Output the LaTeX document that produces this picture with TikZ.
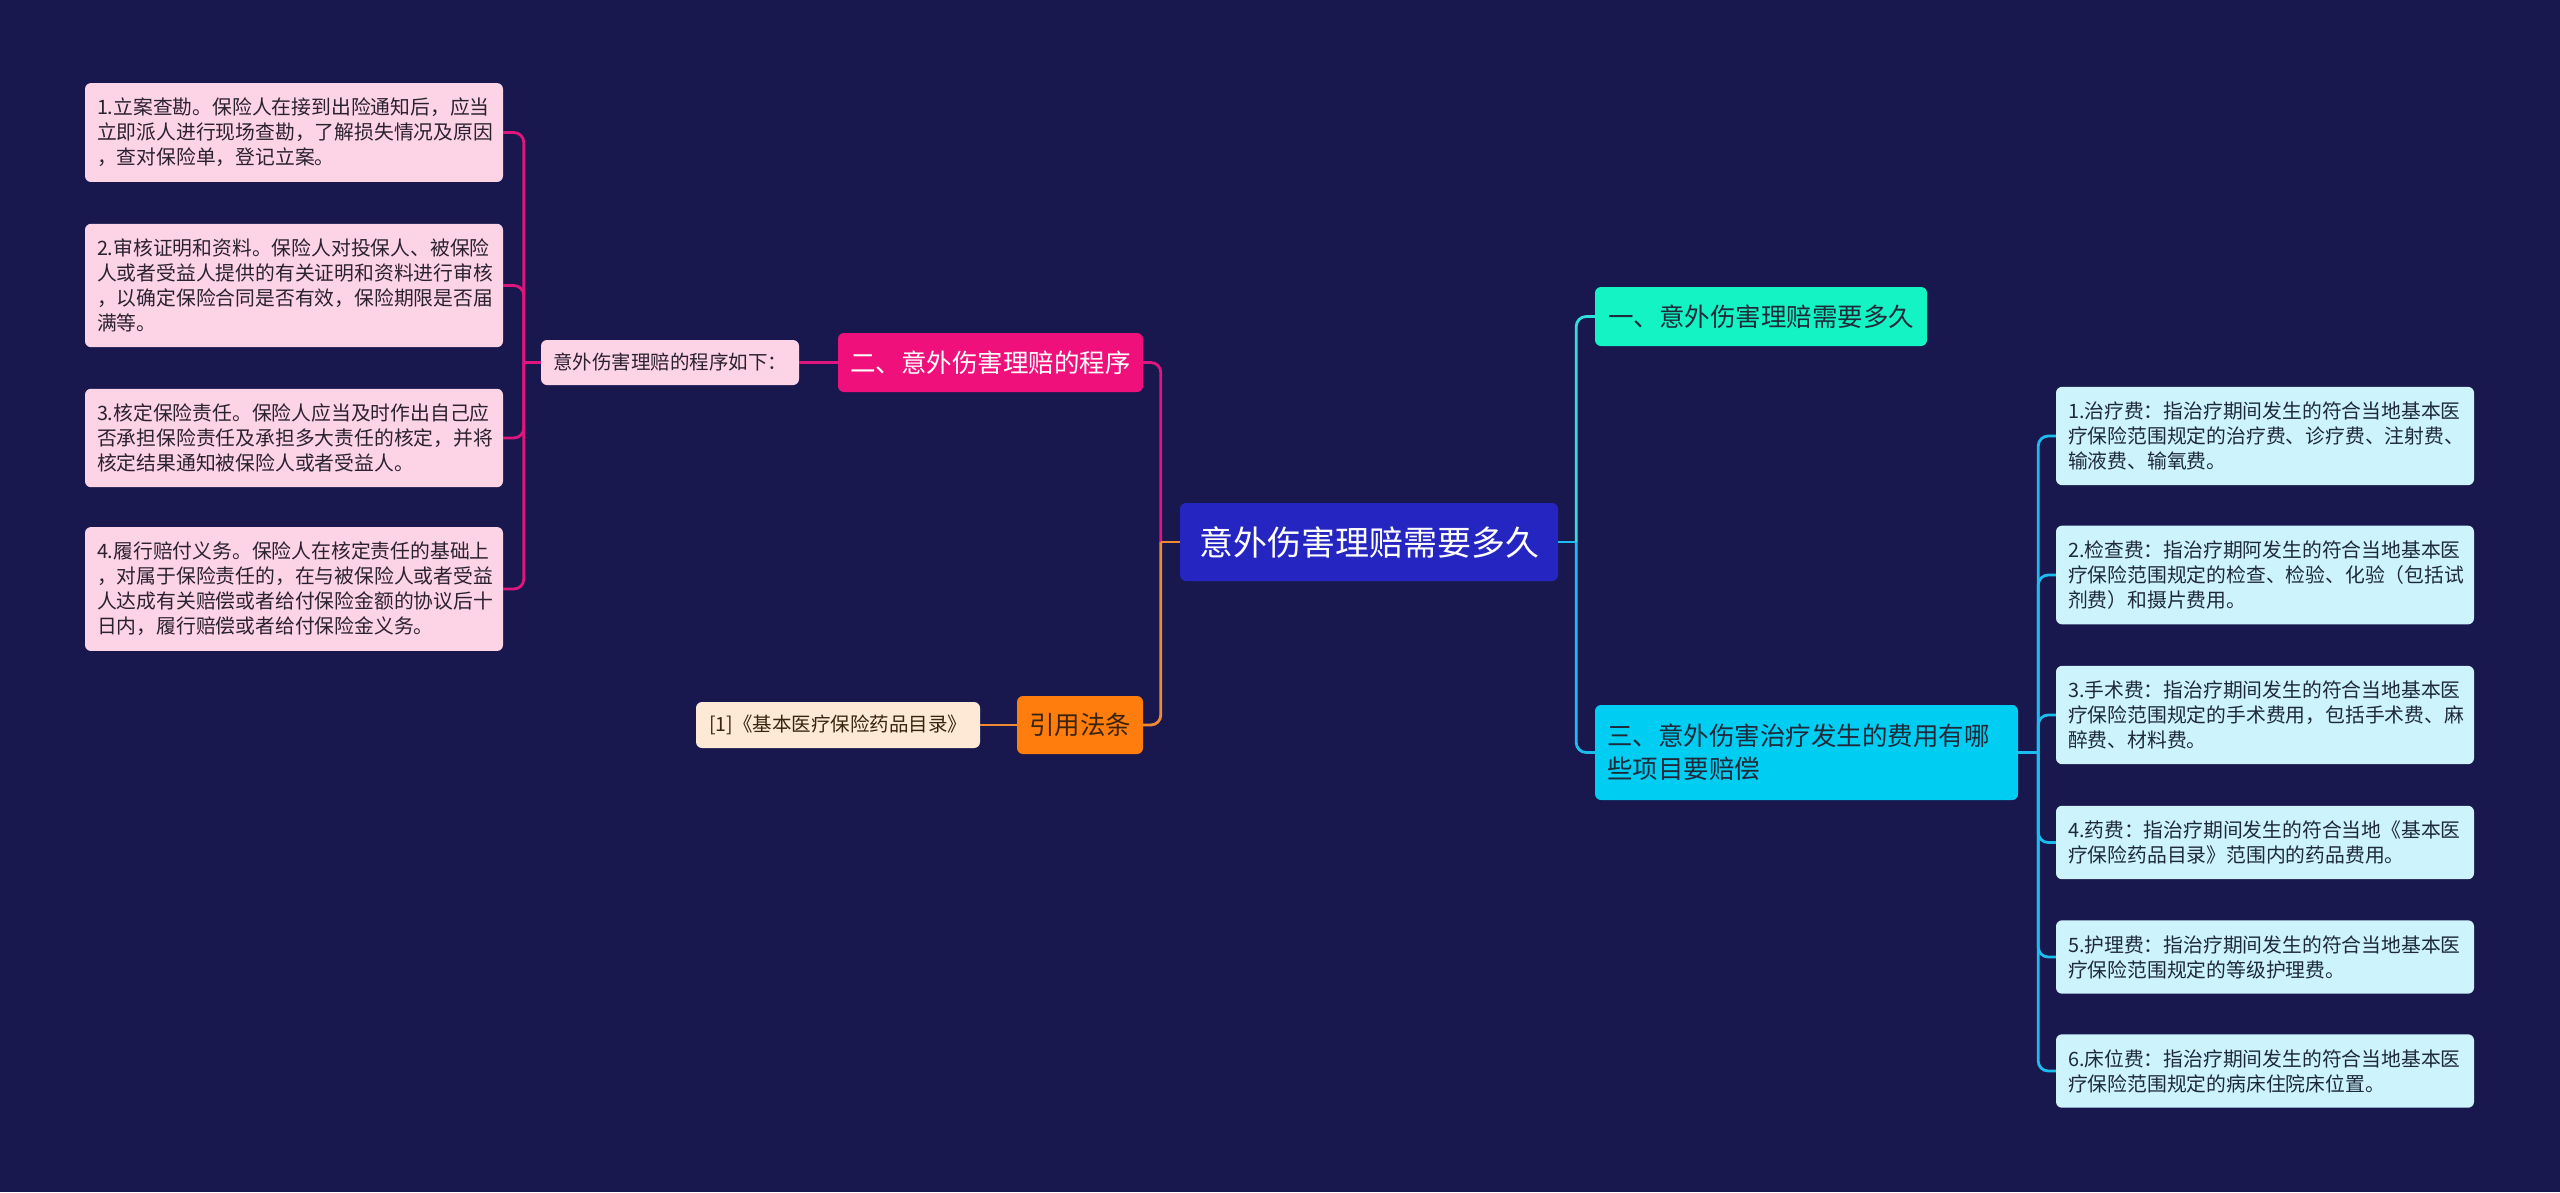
\documentclass[tikz,border=0pt]{standalone}
\usepackage{fontspec}
\setmainfont{Noto Sans CJK SC}
\usetikzlibrary{calc}
\definecolor{bg}{HTML}{18184F}
\definecolor{ctrfill}{HTML}{2525C2}
\definecolor{pinkfill}{HTML}{F0107C}
\definecolor{pinkln}{HTML}{E0167F}
\definecolor{pinkleaf}{HTML}{FDD3E6}
\definecolor{orfill}{HTML}{FF7D0C}
\definecolor{orln}{HTML}{F08A30}
\definecolor{orleaf}{HTML}{FDE9D5}
\definecolor{tealfill}{HTML}{14F3C4}
\definecolor{tealln}{HTML}{30E0D8}
\definecolor{cyanfill}{HTML}{00CDF2}
\definecolor{cyanln}{HTML}{1CBCEC}
\definecolor{cyanleaf}{HTML}{CDF3FC}
\definecolor{darktext}{HTML}{2A2230}
\definecolor{slatetext}{HTML}{1E2A3A}
\definecolor{browntext}{HTML}{3A2410}
\begin{document}
\begin{tikzpicture}[x=1pt,y=-1pt,
  box/.style={rounded corners=6pt, inner sep=0pt, align=center},
  leafL/.style={box, fill=pinkleaf, text=darktext, font=\fontsize{19.8}{25}\selectfont, text width=394pt, align=left, inner xsep=12pt, inner ysep=15pt},
  leafR/.style={box, fill=cyanleaf, text=slatetext, font=\fontsize{19.8}{25}\selectfont, text width=394pt, align=left, inner xsep=12pt, inner ysep=15pt},
  link/.style={line width=2.8pt, rounded corners=10pt}
]
\fill[bg] (0,0) rectangle (2560,1192);
\useasboundingbox (0,0) rectangle (2560,1192);

% central node
\node[box, fill=ctrfill, text=white, font=\fontsize{34}{40}\selectfont, minimum width=378pt, minimum height=78pt] (ctr) at (1369,542) {意外伤害理赔需要多久};

% left branch
\node[box, fill=pinkfill, text=white, font=\fontsize{25.5}{30}\selectfont, minimum width=305pt, minimum height=59pt] (b2) at (990.5,362.5) {二、意外伤害理赔的程序};
\node[box, fill=pinkleaf, text=darktext, font=\fontsize{19.5}{25}\selectfont, minimum width=258pt, minimum height=45pt] (mid) at (670,362.5) {意外伤害理赔的程序如下：};

\node[leafL] (l1) at (294,132.5) {1.立案查勘。保险人在接到出险通知后，应当\\立即派人进行现场查勘，了解损失情况及原因\\，查对保险单，登记立案。};
\node[leafL] (l2) at (294,285.5) {2.审核证明和资料。保险人对投保人、被保险\\人或者受益人提供的有关证明和资料进行审核\\，以确定保险合同是否有效，保险期限是否届\\满等。};
\node[leafL] (l3) at (294,438) {3.核定保险责任。保险人应当及时作出自己应\\否承担保险责任及承担多大责任的核定，并将\\核定结果通知被保险人或者受益人。};
\node[leafL] (l4) at (294,589) {4.履行赔付义务。保险人在核定责任的基础上\\，对属于保险责任的，在与被保险人或者受益\\人达成有关赔偿或者给付保险金额的协议后十\\日内，履行赔偿或者给付保险金义务。};

\node[box, fill=orfill, text=browntext, font=\fontsize{25.5}{30}\selectfont, minimum width=126pt, minimum height=58pt] (cite) at (1080,725) {引用法条};
\node[box, fill=orleaf, text=browntext, font=\fontsize{19.5}{25}\selectfont, minimum width=284pt, minimum height=46pt] (ref) at (838,725) {[1]《基本医疗保险药品目录》};

% right branch
\node[box, fill=tealfill, text=slatetext, font=\fontsize{25.5}{30}\selectfont, minimum width=332pt, minimum height=59pt] (one) at (1761,316.5) {一、意外伤害理赔需要多久};
\node[box, fill=cyanfill, text=slatetext, font=\fontsize{25.5}{33}\selectfont, text width=399pt, align=left, inner xsep=12pt, minimum height=95pt] (three) at (1806.5,752.5) {三、意外伤害治疗发生的费用有哪\\些项目要赔偿};

\node[leafR] (r1) at (2265,436) {1.治疗费：指治疗期间发生的符合当地基本医\\疗保险范围规定的治疗费、诊疗费、注射费、\\输液费、输氧费。};
\node[leafR] (r2) at (2265,575) {2.检查费：指治疗期阿发生的符合当地基本医\\疗保险范围规定的检查、检验、化验（包括试\\剂费）和摄片费用。};
\node[leafR] (r3) at (2265,715) {3.手术费：指治疗期间发生的符合当地基本医\\疗保险范围规定的手术费用，包括手术费、麻\\醉费、材料费。};
\node[leafR] (r4) at (2265,842.5) {4.药费：指治疗期间发生的符合当地《基本医\\疗保险药品目录》范围内的药品费用。};
\node[leafR] (r5) at (2265,957) {5.护理费：指治疗期间发生的符合当地基本医\\疗保险范围规定的等级护理费。};
\node[leafR] (r6) at (2265,1071) {6.床位费：指治疗期间发生的符合当地基本医\\疗保险范围规定的病床住院床位置。};

% connectors left
\coordinate (jl) at ($(ctr.west)+(-19,0)$);
\draw[link, pinkln] (b2.east) -| (jl);
\draw[link, orln] (ctr.west) -- (jl);
\draw[link, orln] (jl) |- (cite.east);
\draw[link, orln] (cite.west) -- (ref.east);
\draw[link, pinkln] (b2.west) -- (mid.east);
\coordinate (jp) at ($(mid.west)+(-17,0)$);
\draw[link, pinkln] (mid.west) -- (jp);
\foreach \n in {l1,l2,l3,l4} \draw[link, pinkln] (jp) |- (\n.east);

% connectors right
\coordinate (jr) at ($(ctr.east)+(18,0)$);
\draw[link, cyanln] (ctr.east) -- (jr);
\draw[link, tealln] (jr) |- (one.west);
\draw[link, cyanln] (jr) |- (three.west);
\coordinate (jr2) at ($(three.east)+(20,0)$);
\draw[link, cyanln] (three.east) -- (jr2);
\foreach \n in {r1,r2,r3,r4,r5,r6} \draw[link, cyanln] (jr2) |- (\n.west);
\end{tikzpicture}
\end{document}
